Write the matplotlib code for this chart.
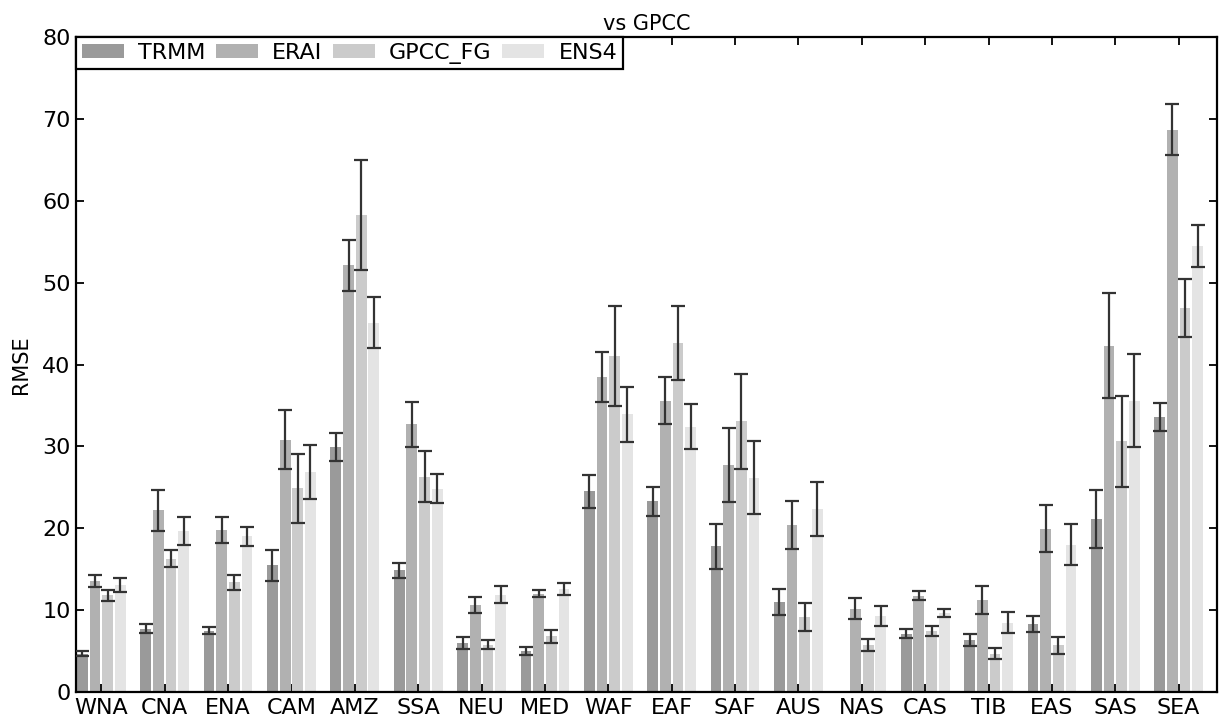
import numpy as np
import matplotlib
matplotlib.use("Agg")
import matplotlib.pyplot as plt

regions = ["WNA", "CNA", "ENA", "CAM", "AMZ", "SSA", "NEU", "MED", "WAF",
           "EAF", "SAF", "AUS", "NAS", "CAS", "TIB", "EAS", "SAS", "SEA"]
series = ["TRMM", "ERAI", "GPCC_FG", "ENS4"]

trmm = [4.7, 7.7, 7.5, 15.5, 29.9, 14.85, 5.95, 5.05, 24.5,
        23.3, 17.8, 11.0, np.nan, 7.14, 6.37, 8.3, 21.15, 33.6]
trmm_err = [0.35, 0.55, 0.4, 1.9, 1.7, 0.95, 0.73, 0.5, 2.0,
            1.75, 2.77, 1.57, np.nan, 0.59, 0.75, 1.0, 3.55, 1.73]

erai = [13.55, 22.2, 19.8, 30.8, 52.1, 32.7, 10.6, 12.0, 38.5,
        35.6, 27.7, 20.4, 10.2, 11.76, 11.23, 19.95, 42.3, 68.7]
erai_err = [0.75, 2.5, 1.6, 3.6, 3.1, 2.75, 1.0, 0.45, 3.05,
            2.9, 4.5, 2.9, 1.3, 0.53, 1.7, 2.85, 6.4, 3.1]

gpcc_fg = [11.8, 16.3, 13.4, 24.9, 58.3, 26.3, 5.8, 6.8, 41.0,
           42.6, 33.05, 9.2, 5.75, 7.48, 4.7, 5.7, 30.6, 46.9]
gpcc_fg_err = [0.7, 1.0, 0.9, 4.2, 6.7, 3.1, 0.6, 0.78, 6.1,
               4.55, 5.75, 1.7, 0.75, 0.58, 0.7, 1.0, 5.6, 3.5]

ens4 = [13.1, 19.65, 19.0, 26.9, 45.1, 24.85, 11.9, 12.6, 33.9,
        32.4, 26.2, 22.4, 9.26, 9.7, 8.45, 18.0, 35.6, 54.5]
ens4_err = [0.85, 1.75, 1.2, 3.3, 3.1, 1.77, 1.0, 0.73, 3.4,
            2.75, 4.5, 3.3, 1.2, 0.5, 1.3, 2.5, 5.65, 2.6]

yticks = [0, 10, 20, 30, 40, 50, 60, 70, 80]

values = [trmm, erai, gpcc_fg, ens4]
errors = [trmm_err, erai_err, gpcc_fg_err, ens4_err]
colors = ["#9a9a9a", "#b1b1b1", "#cbcbcb", "#e4e4e4"]

plt.rcParams['font.family'] = ['DejaVu Sans']

fig = plt.figure(figsize=(12.2, 7.26), dpi=100)
ax = fig.add_axes([0.0623, 0.0468, 0.935, 0.9022])

ind = np.arange(len(regions))
step = 0.2
width = 0.17
for k, (vals, errs, col, lab) in enumerate(zip(values, errors, colors, series)):
    pos = ind + step / 2 + k * step
    ax.bar(pos, vals, width, color=col, edgecolor='none', label=lab, zorder=2)
    ax.errorbar(pos, vals, yerr=errs, fmt='none', ecolor='#333333',
                elinewidth=1.6, capsize=5, capthick=1.6, zorder=3)

ax.set_xlim(0, len(regions))
ax.set_ylim(0, 80)
ax.set_yticks(yticks)
ax.set_xticks(ind + 2 * step)
ax.set_xticklabels(regions)
ax.tick_params(direction='in', length=6, width=1.3, labelsize=16,
               top=True, right=True, pad=4)
for sp in ax.spines.values():
    sp.set_linewidth(1.6)

ax.set_ylabel("RMSE", fontsize=15, labelpad=8)
ax.set_title("vs GPCC", fontsize=15, pad=5)

leg = ax.legend(loc='upper left', ncol=4, fontsize=16, frameon=True,
                fancybox=False, borderaxespad=0, borderpad=0.25,
                handlelength=1.9, handleheight=0.6, handletextpad=0.65,
                columnspacing=0.45)
leg.get_frame().set_edgecolor('black')
leg.get_frame().set_linewidth(1.6)
leg.get_frame().set_alpha(1)

fig.savefig("out.png", dpi=100)
